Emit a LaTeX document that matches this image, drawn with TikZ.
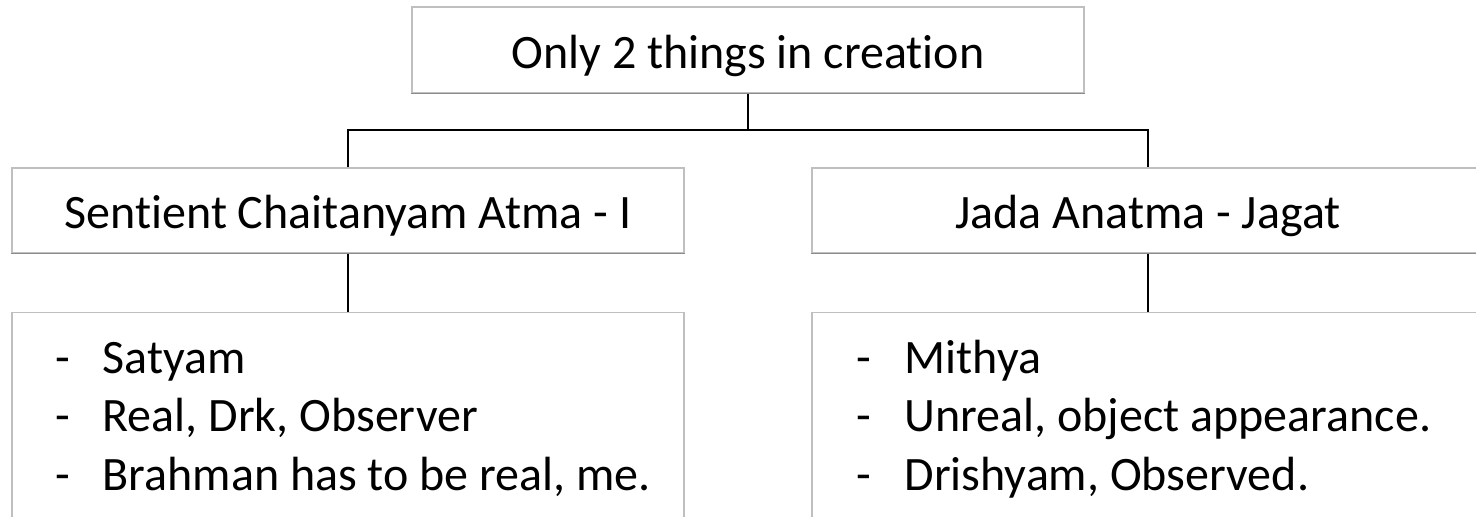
\documentclass[tikz,border=0pt]{standalone}
\usepackage{fontspec}
\setmainfont{Carlito}[Ligatures={NoCommon}]
\usetikzlibrary{calc}

\definecolor{boxline}{HTML}{BFBFBF}
\definecolor{boxshade}{HTML}{8C8C8C}

\begin{document}
\begin{tikzpicture}[x=1pt,y=-1pt,
  box/.style={draw=boxline, line width=1.2pt, fill=white, rectangle,
    minimum width=672pt, inner sep=0pt,
    font=\fontsize{48}{58.5}\selectfont, text height=36pt, text depth=0pt},
  link/.style={draw=black, line width=1.6pt},
  listtext/.style={anchor=base west, inner sep=0pt,
    font=\fontsize{48}{58.5}\selectfont}]
  \useasboundingbox (0,0) rectangle (1476,517);
  \clip (0,0) rectangle (1476,517);

  % top node
  \node[box, minimum height=86pt] (top) at (748,50) {Only 2 things in creation};

  % second level
  \node[box, minimum height=85pt] (ml) at (348,210.5) {Sentient Chaitanyam Atma - I};
  \node[box, minimum height=85pt] (mr) at (1148,210.5) {Jada Anatma - Jagat};

  % third level (boxes run past the lower edge)
  \node[box, minimum height=240pt, anchor=north] (bl) at (348,312) {};
  \node[box, minimum height=240pt, anchor=north] (br) at (1148,312) {};

  % darker lower edges
  \foreach \n in {top,ml,mr}
    \draw[boxshade, line width=1.2pt] (\n.south west) -- (\n.south east);

  % connectors
  \coordinate (bus) at (748,130);
  \draw[link] (top.south) -- (bus);
  \draw[link] (ml.north) |- (bus) -| (mr.north);
  \draw[link] (ml.south) -- (bl.north);
  \draw[link] (mr.south) -- (br.north);

  % bullet lists
  \node[listtext] (ltxt) at ($(bl.north west)+(44,61)$) {%
    \begin{tabular}[t]{@{}p{47pt}@{}l@{}}
      - & Satyam\\
      - & Real, Drk, Observer\\
      - & Brahman has to be real, me.
    \end{tabular}};
  \node[listtext] (rtxt) at ($(br.north west)+(45,61)$) {%
    \begin{tabular}[t]{@{}p{48pt}@{}l@{}}
      - & Mithya\\
      - & Unreal, object appearance.\\
      - & Drishyam, Observed.
    \end{tabular}};
\end{tikzpicture}
\end{document}
